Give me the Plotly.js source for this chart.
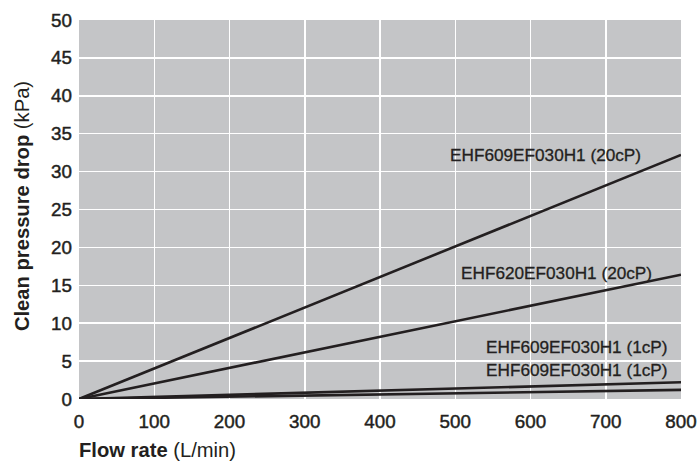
<!DOCTYPE html>
<html>
<head>
<meta charset="utf-8">
<script src="https://cdn.plot.ly/plotly-3.0.1.min.js"></script>
<style>
html,body{margin:0;padding:0;background:#fff;}
#chart{width:699px;height:461px;}
#chart .xtick text, #chart .ytick text{stroke:#231f20;stroke-width:0.45px;}
#chart .annotation[data-index="0"] text, #chart .annotation[data-index="1"] text,
#chart .annotation[data-index="2"] text, #chart .annotation[data-index="3"] text{stroke:#231f20;stroke-width:0.3px;}
</style>
</head>
<body>
<div id="chart"></div>
<script>
// Data
var flowRate = [0, 800];
var seriesNames = ["EHF609EF030H1 (20cP)", "EHF620EF030H1 (20cP)", "EHF609EF030H1 (1cP)", "EHF609EF030H1 (1cP)"];
var drop20cP609 = [0, 32.2];
var drop20cP620 = [0, 16.4];
var drop1cPa = [0, 2.2];
var drop1cPb = [0, 1.2];
var labelX = [750, 764, 786, 786];
var labelY = [32.2, 16.6, 6.9, 3.85];
var xTicks = [0, 100, 200, 300, 400, 500, 600, 700, 800];
var yTicks = [0, 5, 10, 15, 20, 25, 30, 35, 40, 45, 50];

var ink = '#231f20';
var fam = '"Liberation Sans", Arial, Helvetica, sans-serif';
var ys = [drop20cP609, drop20cP620, drop1cPa, drop1cPb];
var traces = ys.map(function (y, i) {
  return {x: flowRate, y: y, mode: 'lines', type: 'scatter', name: seriesNames[i],
    line: {color: ink, width: 2.6}, hoverinfo: 'skip'};
});
var annotations = seriesNames.map(function (t, i) {
  return {x: labelX[i], y: labelY[i], xref: 'x', yref: 'y', text: t, showarrow: false,
    xanchor: 'right', yanchor: 'middle', font: {family: fam, size: 17.2, color: ink}};
});
annotations.push({xref: 'paper', yref: 'paper', x: -0.004, y: -0.134, xanchor: 'left', yanchor: 'middle',
  text: '<b>Flow rate</b> (L/min)', showarrow: false, font: {family: fam, size: 20.2, color: ink}});
annotations.push({xref: 'paper', yref: 'paper', x: -0.0947, y: 0.509, xanchor: 'center', yanchor: 'middle',
  textangle: -90, text: '<b>Clean pressure drop</b> (kPa)', showarrow: false, font: {family: fam, size: 20.2, color: ink}});
var layout = {
  width: 699, height: 461,
  margin: {l: 79, r: 18, t: 20, b: 62},
  paper_bgcolor: '#ffffff', plot_bgcolor: '#c4c5c7',
  showlegend: false,
  font: {family: fam, color: ink},
  xaxis: {range: [0, 800], tickvals: xTicks, ticktext: xTicks.map(String), showgrid: true,
    gridcolor: '#ffffff', gridwidth: 1.5, zeroline: false, showline: false, ticks: '',
    tickfont: {size: 18.8, color: ink, family: fam}, ticklabelstandoff: 9,
    fixedrange: true},
  yaxis: {range: [0, 50], tickvals: yTicks, ticktext: yTicks.map(String), showgrid: true,
    gridcolor: '#ffffff', gridwidth: 1.5, zeroline: false, showline: false, ticks: '',
    tickfont: {size: 18.8, color: ink, family: fam}, ticklabelstandoff: 6,
    fixedrange: true},
  annotations: annotations
};
Plotly.newPlot('chart', traces, layout, {displayModeBar: false, staticPlot: true});
</script>
</body>
</html>
